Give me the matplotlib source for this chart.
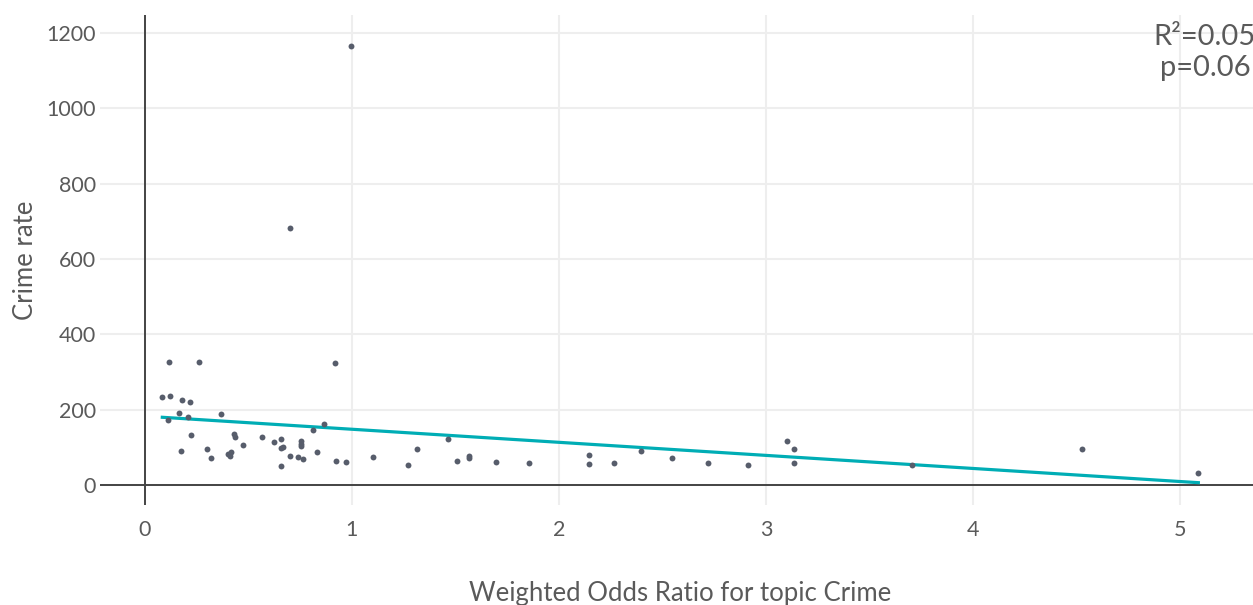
import numpy as np
import matplotlib.pyplot as plt

# weighted odds ratio vs crime rate, one point per unit
odds_ratio = [0.084, 0.117, 0.122, 0.110, 0.164, 0.180, 0.172, 0.206, 0.217, 0.222,
              0.262, 0.301, 0.317, 0.366, 0.401, 0.409, 0.417, 0.430, 0.435, 0.472,
              0.564, 0.625, 0.656, 0.656, 0.665, 0.656, 0.700, 0.700, 0.739, 0.762,
              0.752, 0.752, 0.752, 0.812, 0.831, 0.863, 0.919, 0.924, 0.970, 0.995,
              1.100, 1.272, 1.314, 1.462, 1.509, 1.567, 1.567, 1.697, 1.854, 2.145,
              2.145, 2.266, 2.398, 2.547, 2.718, 2.912, 3.103, 3.137, 3.137, 3.705,
              4.528, 5.089]
crime_rate = [234, 327, 237, 172, 191, 225, 90, 181, 221, 133,
              328, 96, 73, 189, 82, 76, 88, 135, 127, 107,
              127, 115, 121, 99, 101, 51, 76, 682, 74, 69,
              118, 110, 104, 145, 88, 163, 323, 63, 61, 1165,
              75, 54, 96, 122, 64, 77, 72, 62, 58, 79,
              57, 58, 90, 73, 59, 54, 118, 96, 59, 53,
              97, 32]

x_ticks = [0, 1, 2, 3, 4, 5]
y_ticks = [0, 200, 400, 600, 800, 1000, 1200]
r2_label = "R²=0.05"
p_label = "p=0.06"

x = np.array(odds_ratio)
y = np.array(crime_rate)
slope, intercept = np.polyfit(x, y, 1)
x_fit = np.array([x.min(), x.max()])
y_fit = slope * x_fit + intercept

plt.rcParams['font.family'] = ['Lato', 'DejaVu Sans']
text_color = '#5a5a5a'

fig = plt.figure(figsize=(12.53, 6.05), dpi=100)
ax = fig.add_axes([100 / 1253, 1 - 505 / 605, 1153 / 1253, 490 / 605])

ax.set_xlim(-0.217, 5.353)
ax.set_ylim(-53, 1248)

ax.set_xticks(x_ticks)
ax.set_yticks(y_ticks)
ax.grid(True, color='#eeeeee', linewidth=1.5)
ax.set_axisbelow(True)
ax.axhline(0, color='#444444', linewidth=1.4, zorder=2)
ax.axvline(0, color='#444444', linewidth=1.4, zorder=2)

for s in ax.spines.values():
    s.set_visible(False)
ax.tick_params(length=0, labelsize=15.5, labelcolor=text_color, pad=3)
ax.tick_params(axis='x', pad=11)

ax.scatter(x, y, s=18, color='#575d6b', zorder=4, linewidths=0)
ax.plot(x_fit, y_fit, color='#00adb5', linewidth=2.3, zorder=3)

ax.set_ylabel('Crime rate', fontsize=18.5, color=text_color, labelpad=6)
fig.text(680 / 1253, 1 - 601 / 605, 'Weighted Odds Ratio for topic Crime', ha='center',
         va='baseline', fontsize=18.5, color=text_color)

fig.text(1205 / 1253, 1 - 24 / 605, r2_label + '\n' + p_label, ha='center', va='top',
         multialignment='center', fontsize=21, color=text_color, linespacing=1.25)

fig.savefig('out.png', dpi=100)
